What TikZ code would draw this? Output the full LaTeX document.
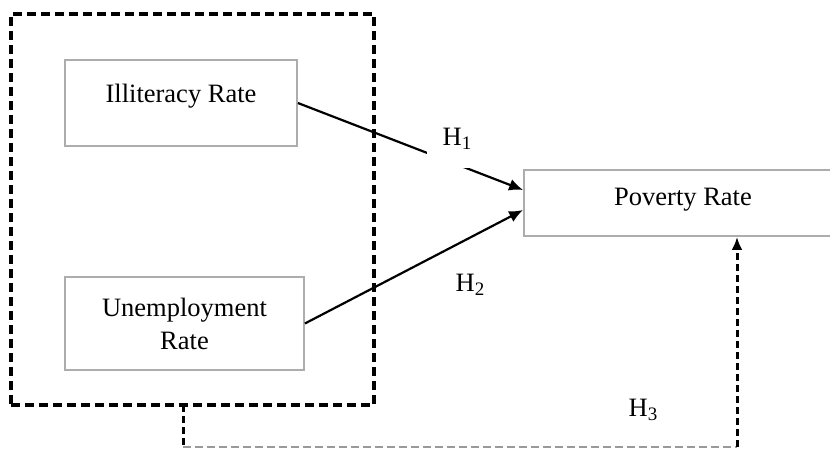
\documentclass[tikz,border=0pt]{standalone}
\usepackage{fontspec}
\setmainfont{Liberation Serif}
\usetikzlibrary{arrows.meta}
\newcommand{\Hsub}[1]{H\raisebox{-0.28ex}{\fontsize{19}{19}\selectfont #1}}
\tikzset{
  varbox/.style={draw=black!32, line width=1.8pt, fill=white, inner sep=0pt, font=\fontsize{26.5}{33}\selectfont, align=center},
  grpbox/.style={draw=black, line width=3.4pt, dash pattern=on 9pt off 5pt, inner sep=0pt},
  solidarrow/.style={line width=2.2pt, -{Latex[length=14pt,width=12pt]}},
  darkdash/.style={line width=3pt, dash pattern=on 7pt off 4pt},
  greydash/.style={draw=black!40, line width=1.6pt, dash pattern=on 8pt off 4pt},
  hlabel/.style={inner sep=0pt, font=\fontsize{26.5}{30}\selectfont}
}
\begin{document}
\begin{tikzpicture}[x=1pt,y=-1pt]
\useasboundingbox (0,0) rectangle (830,448);
\node[grpbox, minimum width=363pt, minimum height=391pt] (grp) at (192.5,209.5) {};
\node[varbox, minimum width=232pt, minimum height=86pt, text height=18pt, text depth=20pt] (ill) at (181,103) {Illiteracy Rate};
\node[varbox, minimum width=239pt, minimum height=93pt] (une) at (184.5,323.5) {Unemployment\\Rate};
\node[varbox, minimum width=318pt, minimum height=66pt, text height=18pt, text depth=14pt] (pov) at (683,203) {Poverty Rate};
\draw[solidarrow] (ill.east) -- ([yshift=13pt]pov.west);
\draw[solidarrow] (une.east) -- ([yshift=-7pt]pov.west);
\node[hlabel, fill=white, minimum width=60pt, minimum height=58pt] (h1) at (457,139) {\Hsub{1}};
\node[hlabel] (h2) at (470,285) {\Hsub{2}};
\node[hlabel] (h3) at (643,410) {\Hsub{3}};
\coordinate (a) at (183,405);
\coordinate (b) at (183,447);
\coordinate (c) at (737,447);
\draw[greydash] (b) -- (c);
\draw[darkdash] (a) -- (b);
\draw[darkdash, -{Latex[length=13pt,width=11pt]}] (c) -- (c |- pov.south);
\end{tikzpicture}
\end{document}
